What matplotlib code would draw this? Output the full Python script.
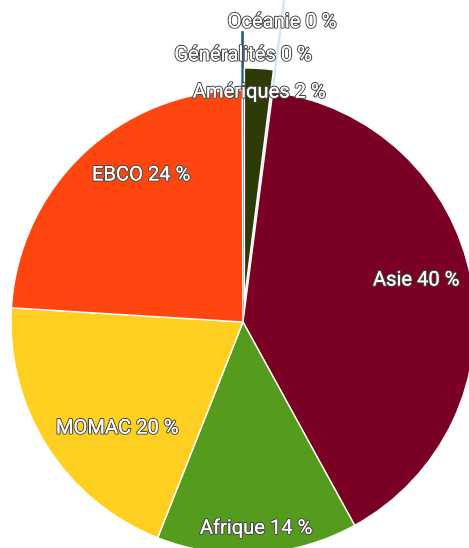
import matplotlib.pyplot as plt
import matplotlib.patheffects as pe

# Slices, clockwise from 12 o'clock
names = ['Amériques', 'Océanie', 'Asie', 'Afrique', 'MOMAC', 'EBCO', 'Généralités']
values = [2, 0.05, 40, 14, 20, 24, 0.05]
colors = ['#2e3b06', '#cfe6fb', '#7a0024', '#559c1e', '#ffd022', '#ff4610', '#1b5597']

# label positions in data units (pie radius = 1)
label_xy = [(0.069, 0.991), (0.168, 1.293), (0.746, 0.181), (0.056, -0.888),
            (-0.543, -0.457), (-0.44, 0.634), (0.0, 1.151)]

fig = plt.figure(figsize=(4.69, 5.48), dpi=100)
ax = fig.add_axes([0, 0, 1, 1])

explode = [0.095, 0, 0, 0, 0, 0, 0]
wedges, _ = ax.pie(values, colors=colors, startangle=90, counterclock=False,
                   explode=explode, radius=1,
                   wedgeprops=dict(edgecolor='white', linewidth=1))

# tiny slices are drawn as long thin spokes
wedges[1].set_radius(1.6)
wedges[1].set_edgecolor(colors[1])
wedges[1].set_zorder(0)
wedges[6].set_radius(1.25)
wedges[6].set_edgecolor(colors[6])
wedges[6].set_linewidth(1.2)
wedges[6].set_zorder(0.5)

outline = [pe.withStroke(linewidth=1.6, foreground='#4a4a4a'), pe.Normal()]
for name, v, (x, y) in zip(names, values, label_xy):
    ax.text(x, y, f"{name} {round(v)} %", ha='center', va='center',
            color='white', fontsize=14.5, family=['Roboto', 'DejaVu Sans'],
            path_effects=outline, zorder=5)

ax.set_xlim(-243 / 232, 226 / 232)
ax.set_ylim(-226 / 232, 322 / 232)
ax.set_aspect('auto')
ax.axis('off')

fig.savefig('out.png', dpi=100)
